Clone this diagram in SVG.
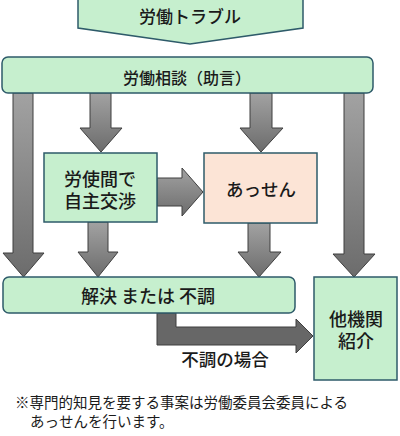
<svg xmlns="http://www.w3.org/2000/svg" width="400" height="436" viewBox="0 0 400 436">
<defs>
<linearGradient id="gv" x1="0" y1="0" x2="0" y2="1">
<stop offset="0" stop-color="#a2a2a2"/>
<stop offset="1" stop-color="#6c6c6c"/>
</linearGradient>
<linearGradient id="gh" x1="0" y1="0" x2="0" y2="1">
<stop offset="0" stop-color="#a2a2a2"/>
<stop offset="1" stop-color="#6c6c6c"/>
</linearGradient>
</defs>
<style>
.g{fill:#c6efce;stroke:#2e5b6a;stroke-width:1.5}
.p{fill:#fce4d6;stroke:#2e5b6a;stroke-width:1.5}
.t{font-family:"Noto Sans CJK JP","Noto Sans CJK SC",sans-serif;font-weight:500;fill:#1a1a1a;text-anchor:middle;dominant-baseline:central}
.a{fill:url(#gv);stroke:#3f3f3f;stroke-width:1}
.ah{fill:url(#gh);stroke:#3f3f3f;stroke-width:1}
.ad{fill:#676767;stroke:#3f3f3f;stroke-width:1}
.n{font-family:"Noto Sans CJK JP","Noto Sans CJK SC",sans-serif;fill:#1a1a1a;font-size:14.5px}
</style>
<rect width="400" height="436" fill="#ffffff"/>
<g id="connectors">
<path class="a" d="M13,93 L33,93 L33,253 L44,253 L23.5,277 L3,253 L13,253 Z"/>
<path class="a" d="M90,93 L111,93 L111,128 L122,128 L101,152 L80,128 L90,128 Z"/>
<path class="a" d="M250,93 L272,93 L272,128 L283,128 L261,152 L240,128 L250,128 Z"/>
<path class="a" d="M344,93 L364,93 L364,254 L375,254 L354,277 L333,254 L344,254 Z"/>
<path class="ah" d="M157,178 L182,178 L182,168 L203,192 L182,216 L182,206 L157,206 Z"/>
<path class="a" d="M88,222 L108,222 L108,252 L118,252 L98,277 L78,252 L88,252 Z"/>
<path class="a" d="M248,223 L270,223 L270,252 L281,252 L259,277 L238,252 L248,252 Z"/>
<path class="ad" d="M157,313 L176,313 L176,327 L296,327 L296,319 L313,336 L296,353 L296,345 L157,345 Z"/>
<text class="t" x="225" y="358" font-size="17.5">不調の場合</text>
</g>
<g id="trouble">
<polygon class="g" points="78,-2 303,-2 303,28 190,44 78,28"/>
<text class="t" x="190" y="15" font-size="17">労働トラブル</text>
</g>
<g id="soudan">
<rect class="g" x="2" y="57" width="371" height="36" rx="6"/>
<text class="t" x="187" y="77" font-size="16">労働相談（助言）</text>
</g>
<g id="jisyu">
<rect class="g" x="44" y="153" width="113" height="69"/>
<text class="t" x="100" y="178" font-size="18">労使間で</text>
<text class="t" x="100" y="200" font-size="18">自主交渉</text>
</g>
<g id="assen">
<rect class="p" x="204" y="153" width="113" height="70"/>
<text class="t" x="261" y="188" font-size="17.5">あっせん</text>
</g>
<g id="kaiketsu">
<rect class="g" x="3" y="277" width="292" height="36" rx="6"/>
<text class="t" x="148" y="295" font-size="18">解決 または 不調</text>
</g>
<g id="takikan">
<rect class="g" x="314" y="277" width="83" height="103"/>
<text class="t" x="356" y="318" font-size="18">他機関</text>
<text class="t" x="356" y="340" font-size="18">紹介</text>
</g>
<g id="note">
<text class="n" x="15" y="408">※専門的知見を要する事案は労働委員会委員による</text>
<text class="n" x="30" y="427">あっせんを行います。</text>
</g>
</svg>
